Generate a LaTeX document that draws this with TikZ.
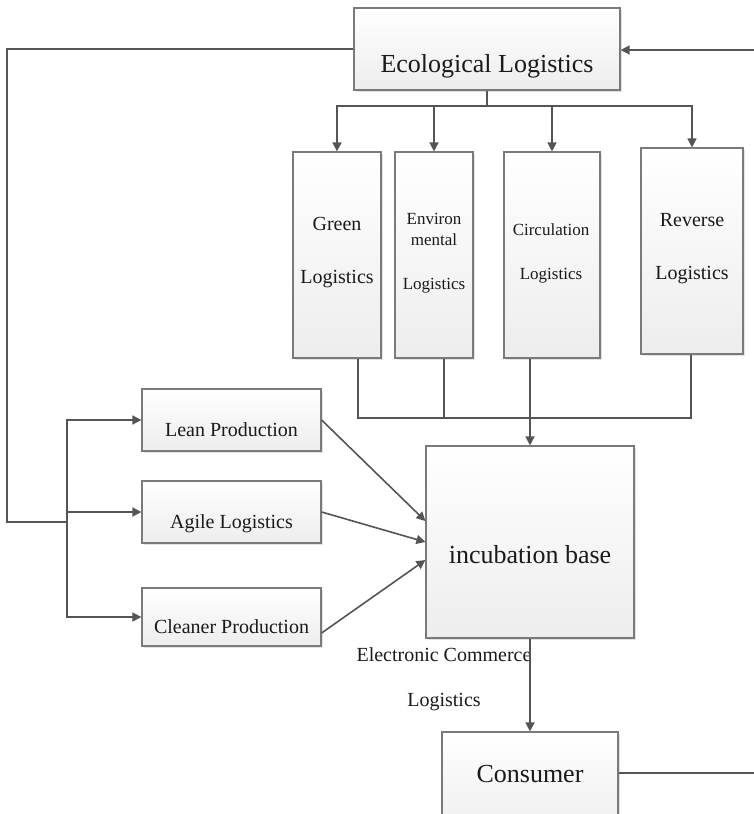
\documentclass[tikz,border=0pt]{standalone}
\usepackage{fontspec}
\setmainfont{Liberation Serif}
\usetikzlibrary{arrows.meta,shadows,calc}
\definecolor{linegray}{HTML}{555555}
\definecolor{boxgray}{HTML}{7A7A7A}
\definecolor{txtcol}{HTML}{1A1A1A}
\tikzset{
  box/.style={draw=boxgray, line width=1.2pt, top color=white, bottom color=black!7,
    drop shadow={shadow xshift=1.5pt, shadow yshift=-1.5pt, fill=black!25, opacity=0.45},
    inner sep=0pt, anchor=center},
  lbl/.style={anchor=base, inner sep=0pt, text=txtcol, font=\fontsize{20}{24}\selectfont},
  lblsmall/.style={lbl, font=\fontsize{17}{20}\selectfont},
  lblbig/.style={lbl, font=\fontsize{26}{30}\selectfont},
  conn/.style={draw=linegray, line width=1.6pt},
  arr/.style={conn, -{Triangle[length=9pt,width=9pt]}},
}
\begin{document}
\begin{tikzpicture}[x=1pt,y=-1pt]
\useasboundingbox (0,0) rectangle (754,814);
\clip (0,0) rectangle (754,814);
\fill[white] (0,0) rectangle (754,814);

% boxes
\node[box, minimum width=266pt, minimum height=82pt] (eco) at (487,49) {};
\node[box, minimum width=88pt, minimum height=206pt] (green) at (337,255) {};
\node[box, minimum width=78pt, minimum height=206pt] (env) at (434,255) {};
\node[box, minimum width=96pt, minimum height=206pt] (circ) at (552,255) {};
\node[box, minimum width=102pt, minimum height=206pt] (rev) at (692,251) {};
\node[box, minimum width=179pt, minimum height=62pt] (lean) at (231.5,420) {};
\node[box, minimum width=179pt, minimum height=62pt] (agile) at (231.5,512) {};
\node[box, minimum width=179pt, minimum height=58pt] (clean) at (231.5,617) {};
\node[box, minimum width=208pt, minimum height=192pt] (incub) at (530,542) {};
\node[box, minimum width=176pt, minimum height=108pt] (cons) at (530,786) {};

% texts
\node[lblbig] (ecot) at (487,72) {Ecological Logistics};
\node[lbl] (greent1) at (337,230) {Green};
\node[lbl] (greent2) at (337,283) {Logistics};
\node[lblsmall] (envt1) at (434,224) {Environ};
\node[lblsmall] (envt2) at (434,245) {mental};
\node[lblsmall] (envt3) at (434,289) {Logistics};
\node[lblsmall] (circt1) at (551,235.5) {Circulation};
\node[lblsmall] (circt2) at (551,279) {Logistics};
\node[lbl] (revt1) at (692,226) {Reverse};
\node[lbl] (revt2) at (692,279) {Logistics};
\node[lbl] (leant) at (231.5,436) {Lean Production};
\node[lbl] (agilet) at (231.5,528.5) {Agile Logistics};
\node[lbl] (cleant) at (231.5,633) {Cleaner Production};
\node[lblbig] (incubt) at (530,563.5) {incubation base};
\node[lblbig] (const) at (530,782) {Consumer};
\node[lbl] (ecom1) at (444,661) {Electronic Commerce};
\node[lbl] (ecom2) at (444,706) {Logistics};

% distribution from Ecological Logistics
\coordinate (topbus) at (487,106);
\draw[conn] (eco.south) -- (topbus);
\draw[arr] (topbus) -| (green.north);
\draw[arr] (topbus) -| (env.north);
\draw[arr] (topbus) -| (circ.north);
\draw[arr] (topbus) -| (rev.north);

% collection into the incubation base
\coordinate (midbus) at (530,418);
\coordinate (gout) at ([xshift=21pt]green.south);
\coordinate (eout) at ([xshift=10pt]env.south);
\coordinate (cout) at ([xshift=-22pt]circ.south);
\coordinate (rout) at ([xshift=-1pt]rev.south);
\draw[conn] (gout) |- (midbus);
\draw[conn] (eout) -- (eout |- midbus);
\draw[conn] (cout) -- (midbus);
\draw[conn] (rout) |- (midbus);
\draw[arr] (midbus) -- (incub.north);

% feedback to the production modes
\coordinate (farleft) at (7,522);
\coordinate (split) at (67,522);
\draw[conn] (eco.west) -| (farleft) -- (split);
\draw[arr] (split) |- (lean.west);
\draw[arr] (split) |- (clean.west);
\draw[arr] (split |- agile.west) -- (agile.west);

% production modes into the incubation base
\draw[arr] (lean.east) -- ([yshift=21pt]incub.west);
\draw[arr] (agile.east) -- (incub.west);
\draw[arr] ([yshift=-16pt]clean.east) -- ([yshift=-18pt]incub.west);

% incubation base to consumer, and the return loop
\draw[arr] (incub.south) -- (cons.north);
\coordinate (loopbot) at (775,773);
\coordinate (looptop) at (775,50);
\draw[conn] ([yshift=13pt]cons.east) -- (loopbot) -- (looptop);
\draw[arr] (looptop) -- ([yshift=-1pt]eco.east);
\end{tikzpicture}
\end{document}
